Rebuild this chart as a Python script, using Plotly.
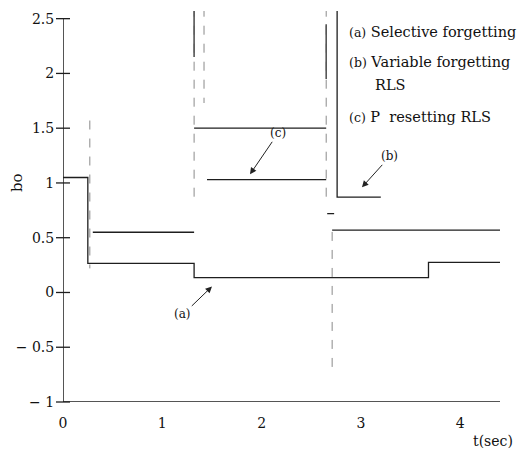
import plotly.graph_objects as go

# ---- data ----
# (a) Selective forgetting : step series
t_a = [0.0, 0.25, 1.32, 3.68, 4.40]
bo_a = [1.05, 0.265, 0.135, 0.275, 0.275]

# (b) Variable forgetting RLS : segments (None = break)
t_b = [0.30, 1.32, None, 1.32, 2.65, None, 2.76, 2.76, 3.20]
bo_b = [0.55, 0.55, None, 1.50, 1.50, None, 2.60, 0.87, 0.87]

# (c) P resetting RLS : segments
t_c = [1.45, 2.65, None, 2.66, 2.73, None, 2.71, 4.40]
bo_c = [1.03, 1.03, None, 0.72, 0.72, None, 0.57, 0.57]

# transient spikes (gray, vertical)
spike_t = [0.27, 0.27, None, 1.32, 1.32, None, 1.42, 1.42, None, 2.65, 2.65, None, 2.71, 2.71]
spike_bo = [1.57, 0.22, None, 2.60, 0.80, None, 2.60, 1.73, None, 2.60, 0.80, None, -0.68, 0.57]
spike_dark_t = [1.32, 1.32, None, 2.65, 2.65]
spike_dark_bo = [2.60, 2.15, None, 2.45, 1.95]

x_ticks = [0, 1, 2, 3, 4]
y_ticks = [-1, -0.5, 0, 0.5, 1, 1.5, 2, 2.5]
y_tick_text = ["\u2212 1", "\u2212 0.5", "0", "0.5", "1", "1.5", "2", "2.5"]
x_max = 4.4

FONT = "DejaVu Serif"
LINE = "#1e1e1e"

fig = go.Figure()

fig.add_trace(go.Scatter(x=spike_t, y=spike_bo, mode="lines",
                         line=dict(color="#8a8a8a", width=1, dash="dash"),
                         hoverinfo="skip", showlegend=False))
fig.add_trace(go.Scatter(x=spike_dark_t, y=spike_dark_bo, mode="lines",
                         line=dict(color="#555", width=1.6),
                         hoverinfo="skip", showlegend=False))
fig.add_trace(go.Scatter(x=t_a, y=bo_a, mode="lines", line_shape="hv",
                         line=dict(color=LINE, width=1.3), showlegend=False))
fig.add_trace(go.Scatter(x=t_b, y=bo_b, mode="lines",
                         line=dict(color=LINE, width=1.3), showlegend=False))
fig.add_trace(go.Scatter(x=t_c, y=bo_c, mode="lines",
                         line=dict(color=LINE, width=1.3), showlegend=False))

# axis frame
fig.add_trace(go.Scatter(x=[0, 0, x_max], y=[max(y_ticks), min(y_ticks), min(y_ticks)],
                         mode="lines", line=dict(color=LINE, width=1.5),
                         hoverinfo="skip", showlegend=False))
# cross-shaped ticks on the y axis
fig.add_trace(go.Scatter(x=[0] * len(y_ticks), y=y_ticks, mode="markers",
                         marker=dict(symbol="line-ew", size=10,
                                     line=dict(color=LINE, width=1.3)),
                         cliponaxis=False, hoverinfo="skip", showlegend=False))

# legend-like texts
leg_font = dict(family=FONT, size=14.5, color="#111")
fig.add_annotation(x=2.86, y=(292 - 32) / 109.5, text="<span style='font-size:12.5px'>(a)</span> Selective forgetting",
                   showarrow=False, xanchor="left", font=leg_font)
fig.add_annotation(x=2.86, y=(292 - 62) / 109.5, text="<span style='font-size:12.5px'>(b)</span> Variable forgetting",
                   showarrow=False, xanchor="left", font=leg_font)
fig.add_annotation(x=3.12, y=(292 - 85) / 109.5, text="RLS",
                   showarrow=False, xanchor="left", font=leg_font)
fig.add_annotation(x=2.86, y=(292 - 117) / 109.5, text="<span style='font-size:12.5px'>(c)</span> P  resetting RLS",
                   showarrow=False, xanchor="left", font=leg_font)

lab_font = dict(family=FONT, size=12, color="#111")
arrow = dict(showarrow=True, arrowhead=2, arrowsize=1.3, arrowwidth=1, arrowcolor="#222")
fig.add_annotation(x=1.883, y=1.079, ax=28, ay=-41, text="(c)", font=lab_font, **arrow)
fig.add_annotation(x=3.01, y=0.96, ax=28, ay=-31, text="(b)", font=lab_font, **arrow)
fig.add_annotation(x=1.50, y=0.055, ax=-29, ay=28, text="(a)", font=lab_font, **arrow)

# axis titles
fig.add_annotation(xref="paper", yref="paper", x=(17 - 63) / 437, y=(402 - 183) / 391,
                   xanchor="center", yanchor="middle",
                   text="bo", textangle=-90, showarrow=False,
                   font=dict(family=FONT, size=15, color="#111"))
fig.add_annotation(xref="paper", yref="paper", x=(493 - 63) / 437, y=-(441 - 402) / 391,
                   xanchor="center", yanchor="middle",
                   text="t(sec)", showarrow=False,
                   font=dict(family=FONT, size=14, color="#111"))

# page body has an 8px margin: size the figure so the plot area lands where the reference has it
fig.update_layout(
    width=518, height=445,
    margin=dict(l=55, r=26, t=3, b=51),
    paper_bgcolor="white", plot_bgcolor="white",
    font=dict(family=FONT, size=14, color="#111"),
    xaxis=dict(range=[0, x_max], tickvals=x_ticks, showgrid=False, zeroline=False,
               showline=False, ticks="outside", ticklen=8, tickcolor="rgba(0,0,0,0)"),
    yaxis=dict(range=[-1, 2.57], tickvals=y_ticks, ticktext=y_tick_text,
               showgrid=False, zeroline=False, showline=False,
               ticks="outside", ticklen=5, tickcolor="rgba(0,0,0,0)"),
)

fig.write_html("out.html")
